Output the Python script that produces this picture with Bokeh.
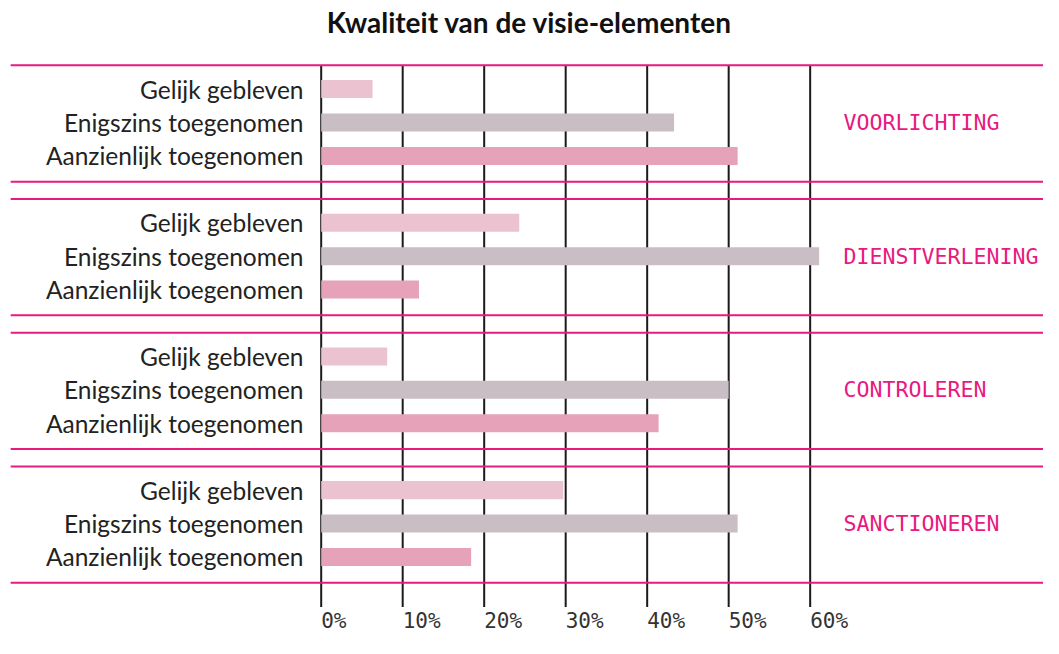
from bokeh.plotting import figure
from bokeh.models import Range1d
from bokeh.core.properties import value
from bokeh.embed import file_html
from bokeh.resources import INLINE

# ---- data ----
title = "Kwaliteit van de visie-elementen"
groups = ["VOORLICHTING", "DIENSTVERLENING", "CONTROLEREN", "SANCTIONEREN"]
sub_labels = ["Gelijk gebleven", "Enigszins toegenomen", "Aanzienlijk toegenomen"]
gelijk = [6.3, 24.3, 8.1, 29.7]
enigszins = [43.3, 61.1, 50.0, 51.1]
aanzienlijk = [51.1, 12.0, 41.4, 18.4]
tick_values = [0, 10, 20, 30, 40, 50, 60]
tick_labels = ["0%", "10%", "20%", "30%", "40%", "50%", "60%"]

# ---- styles ----
colors = ["#EBC3D0", "#C9BEC3", "#E6A2B8"]
pink = "#E8197F"
W, H = 1043, 638

p = figure(width=W, height=H, output_backend="svg", toolbar_location=None,
           x_range=Range1d(-39.35, 88.63), y_range=Range1d(16.44, -2.65),
           x_axis_location=None, y_axis_location=None, min_border=0,
           outline_line_color=None, background_fill_color="white",
           border_fill_color="white")
p.grid.visible = False

series = [gelijk, enigszins, aanzienlijk]
bar_y, bar_r, bar_c, lab_y, lab_t = [], [], [], [], []
for g in range(len(groups)):
    for i in range(3):
        bar_y.append(4 * g + i)
        bar_r.append(series[i][g])
        bar_c.append(colors[i])
        lab_y.append(4 * g + i)
        lab_t.append(sub_labels[i])

# vertical gridlines
p.segment(x0=tick_values, x1=tick_values, y0=[-0.71] * len(tick_values),
          y1=[15.5] * len(tick_values), line_color="#1a1a1a", line_width=2)

# bars
p.hbar(y=bar_y, left=0, right=bar_r, height=0.54, fill_color=bar_c,
       line_color=None)

# pink separators
tops = [4 * g - 0.71 for g in range(len(groups))]
bots = [4 * g + 2.77 for g in range(len(groups))]
ys = tops + bots
p.segment(x0=[-38.1] * len(ys), x1=[100] * len(ys), y0=ys, y1=ys,
          line_color=pink, line_width=2)

# category labels
p.text(x=[-2.17] * len(lab_y), y=lab_y, text=lab_t, text_align="right",
       text_baseline="middle", text_font=value("Lato"), text_font_size="24.5px",
       text_color="#222222")

# group labels
p.text(x=[64.1] * len(groups), y=[4 * g + 1 for g in range(len(groups))],
       text=groups, text_align="left", text_baseline="middle",
       text_font=value("DejaVu Sans Mono"), text_font_size="21.6px",
       text_color=pink)

# tick labels
p.text(x=tick_values, y=[15.93] * len(tick_values), text=tick_labels,
       text_align="left", text_baseline="middle",
       text_font=value("DejaVu Sans Mono"), text_font_size="21px",
       text_color="#333333")

# title
p.text(x=[25.56], y=[-2.01], text=[title], text_align="center",
       text_baseline="middle", text_font=value("Lato"), text_font_size="28px",
       text_font_style="bold", text_color="#111111")

open("out.html", "w").write(file_html(p, INLINE))
